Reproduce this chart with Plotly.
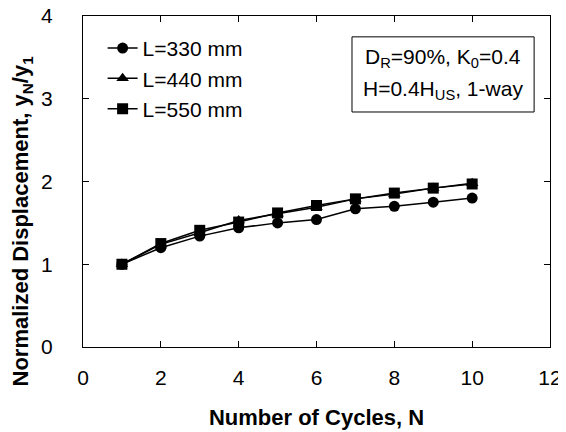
import plotly.graph_objects as go

cycles = [1, 2, 3, 4, 5, 6, 7, 8, 9, 10]
l330 = [1.00, 1.20, 1.34, 1.44, 1.50, 1.54, 1.67, 1.70, 1.75, 1.80]
l440 = [1.00, 1.24, 1.38, 1.53, 1.61, 1.69, 1.79, 1.85, 1.92, 1.98]
l550 = [1.00, 1.25, 1.41, 1.51, 1.62, 1.71, 1.79, 1.86, 1.92, 1.97]
names = ["L=330 mm", "L=440 mm", "L=550 mm"]
symbols = ["circle", "triangle-up", "square"]
sizes = [11, 11, 11]
x_title = "Number of Cycles, N"
y_title = "Normalized Displacement, y<sub>N</sub>/y<sub>1</sub>"
box_lines = ["D<sub>R</sub>=90%, K<sub>0</sub>=0.4", "H=0.4H<sub>US</sub>, 1-way"]

fig = go.Figure()
for vals, nm, sym, sz in zip([l330, l440, l550], names, symbols, sizes):
    fig.add_trace(go.Scatter(
        x=cycles, y=vals, name=nm, mode="lines+markers",
        line=dict(color="black", width=1.5),
        marker=dict(symbol=sym, size=sz, color="black"),
    ))

font = "Liberation Sans, Arial, sans-serif"
axis_common = dict(
    showgrid=False, zeroline=False, showline=True, linecolor="black", linewidth=1,
    mirror="ticks", ticks="inside", ticklen=6, tickcolor="black", automargin=False,
    ticklabeloverflow="allow",
    tickfont=dict(family=font, size=21, color="black"),
)
fig.update_xaxes(range=[0, 12], dtick=2, tick0=0, ticklabelstandoff=12,
                 title=dict(text="<b>" + x_title + "</b>", font=dict(family=font, size=22, color="black"), standoff=21),
                 **axis_common)
fig.update_yaxes(range=[0, 4], dtick=1, tick0=0, ticklabelstandoff=25,
                 **axis_common)

# y-axis title (placed slightly lower than centre, as in the reference)
fig.add_annotation(
    xref="paper", yref="paper", x=-0.13, y=0.38, xanchor="center", yanchor="middle",
    text="<b>" + y_title + "</b>", textangle=-90, showarrow=False,
    font=dict(family=font, size=22, color="black"),
)

# info box
fig.add_shape(type="rect", xref="paper", yref="paper",
              x0=0.576, x1=0.966, y0=0.710, y1=0.937,
              line=dict(color="black", width=1), fillcolor="white", layer="below")
for txt, yy in zip(box_lines, [0.873, 0.776]):
    fig.add_annotation(
        xref="paper", yref="paper", x=0.771, y=yy, xanchor="center", yanchor="middle",
        text=txt, showarrow=False, font=dict(family=font, size=21, color="black"),
    )

fig.update_layout(
    width=558, height=424,
    margin=dict(l=75, r=16, t=8, b=85),
    paper_bgcolor="white", plot_bgcolor="white",
    showlegend=True,
    legend=dict(x=0.042, y=0.964, xanchor="left", yanchor="top",
                font=dict(family=font, size=21, color="black"),
                bgcolor="rgba(0,0,0,0)", itemwidth=30, tracegroupgap=0),
    font=dict(family=font, color="black"),
)
fig.write_html("out.html")
